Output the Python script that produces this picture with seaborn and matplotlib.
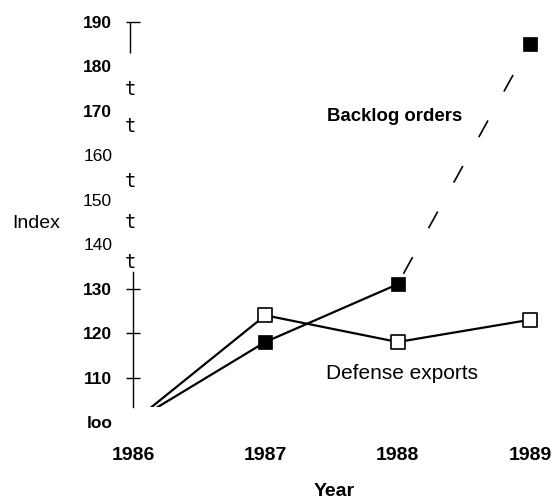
import numpy as np
import pandas as pd
import matplotlib
matplotlib.use("Agg")
import matplotlib.pyplot as plt
from matplotlib.patches import Rectangle
import seaborn as sns

# Index values (1986 = 100)
years = [1986, 1987, 1988, 1989]
defense_exports = [100, 124, 118, 123]
backlog_orders = [100, 118, 131, 185]

ytick_values = [100, 110, 120, 130, 140, 150, 160, 170, 180, 190]
ytick_labels = ["loo", "110", "120", "130", "140", "150", "160", "170", "180", "190"]
bold_yticks = [100, 110, 120, 130, 170, 180, 190]
xtick_labels = ["1986", "1987", "1988", "1989"]

sns.set_style("white")
plt.rcParams["font.family"] = ["Liberation Sans", "DejaVu Sans"]
plt.rcParams.update({"text.color": "black", "axes.labelcolor": "black",
                     "xtick.color": "black", "ytick.color": "black"})

fig = plt.figure(figsize=(5.55, 5.0), dpi=100)
ax = fig.add_axes([133 / 555, 78 / 500, 397 / 555, 400 / 500])

exports_df = pd.DataFrame({"year": years, "index": defense_exports})
backlog_df = pd.DataFrame({"year": years, "index": backlog_orders})

line_kw = dict(x="year", y="index", color="black", ax=ax)
sns.lineplot(data=exports_df, linewidth=1.6, **line_kw)
sns.lineplot(data=backlog_df.iloc[:3], linewidth=1.6, **line_kw)
sns.lineplot(data=backlog_df.iloc[2:], linewidth=1.2,
             linestyle=(24, (11.4, 19.8)), **line_kw)

# Lines fade out just above the baseline
clip = Rectangle((1985.5, 103.4), 4, 100, transform=ax.transData)
for ln in ax.lines:
    ln.set_clip_path(clip)

# Markers: open squares for exports, filled squares for backlog
sns.scatterplot(data=exports_df.iloc[1:], x="year", y="index", marker="s", s=115,
                facecolor="white", edgecolor="black", linewidth=1.2, ax=ax,
                clip_on=False, zorder=5)
sns.scatterplot(data=backlog_df.iloc[1:], x="year", y="index", marker="s", s=105,
                color="black", edgecolor="black", linewidth=0.5, ax=ax,
                clip_on=False, zorder=6)

ax.set_xlim(1986, 1989)
ax.set_ylim(100, 190)

# Axis styling
for side in ["top", "right", "bottom"]:
    ax.spines[side].set_visible(False)
ax.spines["left"].set_bounds(103.4, 133.8)
ax.spines["left"].set_linewidth(1.0)
ax.spines["left"].set_color("black")
ax.vlines(1986 - 0.025, 183.0, 190, color="black", linewidth=1.0, clip_on=False)

ax.set_yticks(ytick_values)
ax.set_yticklabels(ytick_labels, fontsize=12.5)
ax.tick_params(axis="y", direction="inout", length=10, width=1.0, pad=10, left=True)
for tick, val in zip(ax.yaxis.get_major_ticks(), ytick_values):
    if val not in (110, 120, 130, 190):
        tick.tick1line.set_visible(False)
for lab, val in zip(ax.get_yticklabels(), ytick_values):
    if val in bold_yticks:
        lab.set_fontweight("bold")

# Broken-axis marks on the upper part of the scale
for yv in [174.9, 166.4, 154.0, 144.8, 135.8]:
    ax.text(1986 - 0.02, yv, "t", family="DejaVu Sans Mono", fontsize=13.5,
            ha="center", va="center", clip_on=False)

ax.set_xticks(years)
ax.set_xticklabels(xtick_labels, fontsize=14, fontweight="bold")
ax.tick_params(axis="x", length=0, pad=18)
ax.set_xlabel("")
ax.set_ylabel("")
fig.text(334 / 555, 1 - 491 / 500, "Year", fontsize=14, fontweight="bold",
         ha="center", va="center")
fig.text(12 / 555, 1 - 223 / 500, "Index", fontsize=14, ha="left", va="center")

ax.text(1987.98, 168.8, "Backlog orders", fontsize=13.4, fontweight="bold",
        ha="center", va="center")
ax.text(1988.03, 110.8, "Defense exports", fontsize=15, ha="center", va="center")

fig.savefig("out.png", dpi=100)
